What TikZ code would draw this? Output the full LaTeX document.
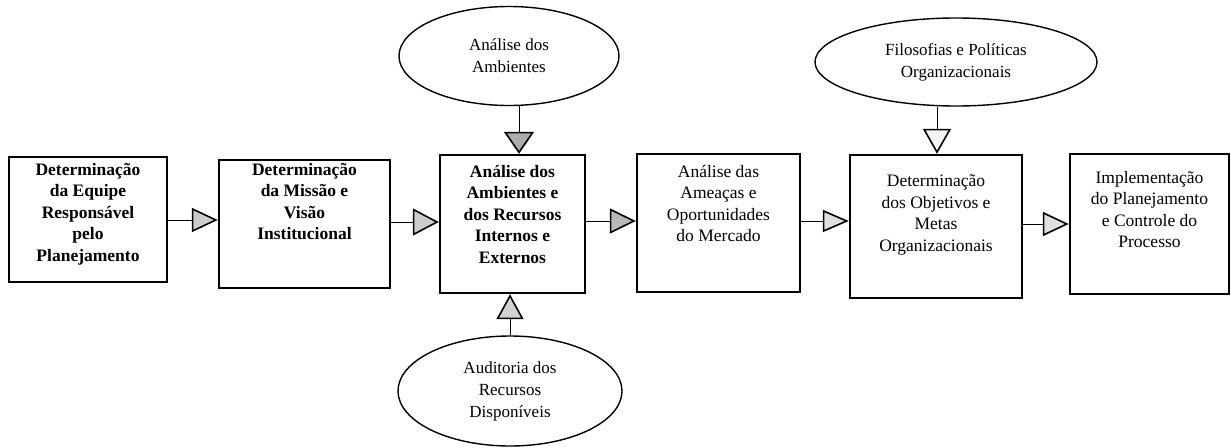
\documentclass[tikz,border=0pt]{standalone}
\usepackage{fontspec}
\setmainfont{Liberation Serif}
\usetikzlibrary{arrows.meta,shapes.geometric}
\begin{document}
\begin{tikzpicture}[x=1pt,y=-1pt,
  box/.style={draw, line width=2.4pt, rectangle, inner sep=0pt},
  boxtxt/.style={anchor=north, align=center, inner sep=0pt, font=\fontsize{17.5}{21.5}\selectfont},
  boldtxt/.style={boxtxt, font=\fontsize{17.5}{21.5}\selectfont\bfseries},
  oval/.style={draw, ellipse, line width=1.4pt, inner sep=0pt, align=center, font=\fontsize{17}{22}\selectfont},
  conn/.style={line width=0.8pt},
  tip/.style={-{Triangle[length=#1, width=26pt, line width=1.6pt, fill=gray!40]}},
  tipf/.style 2 args={-{Triangle[length=26pt, width=#1, line width=1.6pt, fill=gray!#2]}}
]
\useasboundingbox (0,0) rectangle (1231,447);

% boxes
\node[box, minimum width=158pt, minimum height=125pt] (b1) at (88,219.5) {};
\node[box, minimum width=171pt, minimum height=128pt] (b2) at (304.5,224) {};
\node[box, minimum width=145pt, minimum height=138pt] (b3) at (512.5,224) {};
\node[box, minimum width=163pt, minimum height=138pt] (b4) at (718.5,223) {};
\node[box, minimum width=172pt, minimum height=143pt] (b5) at (936,226.5) {};
\node[box, minimum width=159pt, minimum height=140pt] (b6) at (1149.5,224) {};

% box texts
\node[boldtxt] (t1) at (88,163) {Determinação\\da Equipe\\Responsável\\pelo\\Planejamento};
\node[boldtxt] (t2) at (304.5,163) {Determinação\\da Missão e\\Visão\\Institucional};
\node[boldtxt] (t3) at (512.5,165) {Análise dos\\Ambientes e\\dos Recursos\\Internos e\\Externos};
\node[boxtxt] (t4) at (718.5,165) {Análise das\\Ameaças e\\Oportunidades\\do Mercado};
\node[boxtxt] (t5) at (936,175) {Determinação\\dos Objetivos e\\Metas\\Organizacionais};
\node[boxtxt] (t6) at (1149.5,171) {Implementação\\do Planejamento\\e Controle do\\Processo};

% ellipses
\node[oval, minimum width=220pt, minimum height=99pt] (e1) at (509,56) {Análise dos\\Ambientes};
\node[oval, minimum width=282pt, minimum height=88pt] (e2) at (956,62) {Filosofias e Políticas\\Organizacionais};
\node[oval, minimum width=224pt, minimum height=110pt] (e3) at (510,391) {Auditoria dos\\Recursos\\Disponíveis};

% horizontal connectors
\draw[conn, tipf={24pt}{40}] (b1.east |- 0,220) -- (b2.west |- 0,220);
\draw[conn, tipf={27pt}{40}] (b2.east |- 0,222) -- (b3.west |- 0,222);
\draw[conn, tipf={25pt}{55}] (b3.east |- 0,221) -- (b4.west |- 0,221);
\draw[conn, tipf={22pt}{25}] (b4.east |- 0,221) -- (b5.west |- 0,221);
\draw[conn, tipf={24pt}{25}] (b5.east |- 0,224) -- (b6.west |- 0,224);

% vertical connectors
\draw[conn, -{Triangle[length=22pt, width=30pt, line width=1.6pt, fill=gray!65]}] (e1.south -| 519,0) -- (b3.north -| 519,0);
\draw[conn, -{Triangle[length=25pt, width=28pt, line width=1.6pt, fill=gray!8]}] (e2.south -| 937,0) -- (b5.north -| 937,0);
\draw[conn, -{Triangle[length=25pt, width=27pt, line width=1.6pt, fill=gray!35]}] (e3.north -| 510,0) -- (b3.south -| 510,0);
\end{tikzpicture}
\end{document}
